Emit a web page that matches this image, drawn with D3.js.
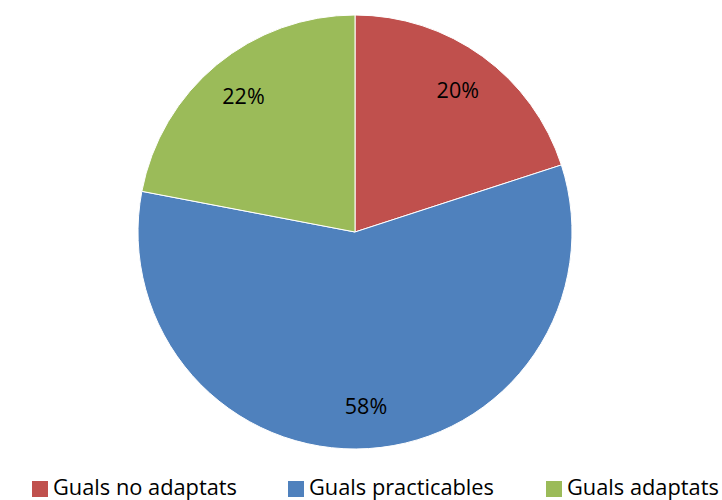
<!DOCTYPE html>
<html><head><meta charset="utf-8">
<script src="https://cdn.jsdelivr.net/npm/d3@7"></script>
<style>body{margin:0;background:#fff}svg{display:block}</style>
</head><body>
<svg id="c" width="722" height="500"></svg>
<script>
const categories = ["Guals no adaptats", "Guals practicables", "Guals adaptats"];
const values = [20, 58, 22];
const labels = ["20%", "58%", "22%"];
const colors = ["#C0504D", "#4F81BD", "#9BBB59"];

const svg = d3.select("#c");
const cx = 355, cy = 232, r = 217;
const font = "'Open Sans', Lato, sans-serif";

const pie = d3.pie().sort(null).value(d => d)(values);
const arc = d3.arc().innerRadius(0).outerRadius(r);
const labelArc = d3.arc().innerRadius(r * 0.806).outerRadius(r * 0.806);

const g = svg.append("g").attr("transform", `translate(${cx},${cy})`);
g.selectAll("path").data(pie).enter().append("path")
  .attr("d", arc).attr("fill", (d, i) => colors[i])
  .attr("stroke", "#fff").attr("stroke-width", 1);

g.selectAll("text").data(pie).enter().append("text")
  .attr("transform", d => { const c = labelArc.centroid(d); return `translate(${c[0]},${c[1] + 7})`; })
  .attr("text-anchor", "middle").attr("font-family", font).attr("font-size", 21.5)
  .attr("fill", "#000").text((d, i) => labels[i]);

const legX = [32, 288, 546];
const lg = svg.append("g");
categories.forEach((c, i) => {
  lg.append("rect").attr("x", legX[i]).attr("y", 481).attr("width", 16).attr("height", 16).attr("fill", colors[i]);
  lg.append("text").attr("x", legX[i] + 21).attr("y", 495).attr("font-family", font).attr("font-size", 21.8)
    .attr("fill", "#000").text(c);
});
</script>
</body></html>
